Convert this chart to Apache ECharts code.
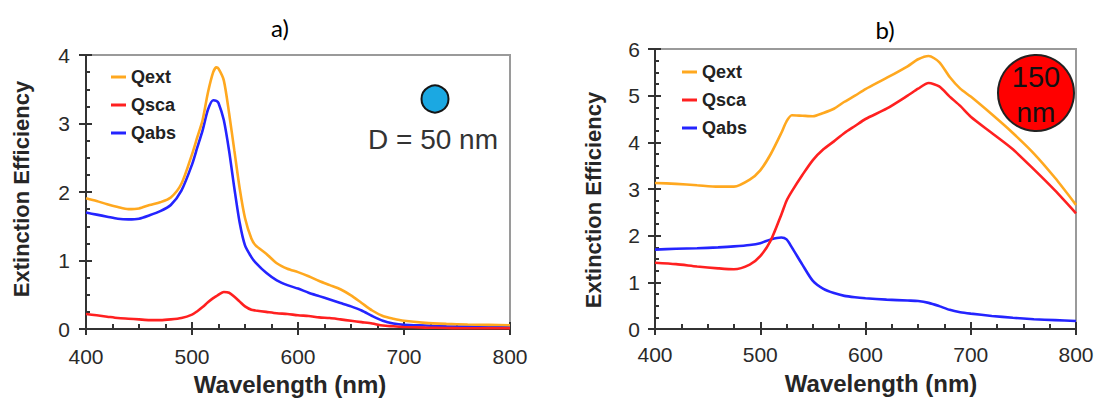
<!DOCTYPE html>
<html>
<head>
<meta charset="utf-8">
<script src="https://cdn.jsdelivr.net/npm/echarts@6/dist/echarts.min.js"></script>
<style>
html,body{margin:0;padding:0;background:#fff;}
#chart{width:1099px;height:401px;}
</style>
</head>
<body>
<div id="chart"></div>
<script>
// ---------- data ----------
const panelTitles = ['a)', 'b)'];
const seriesNames = ['Qext', 'Qsca', 'Qabs'];
const xTicks = [400, 500, 600, 700, 800];
const yTicksA = [0, 1, 2, 3, 4];
const yTicksB = [0, 1, 2, 3, 4, 5, 6];
const xAxisName = 'Wavelength (nm)';
const yAxisName = 'Extinction Efficiency';
const labelA = 'D = 50 nm';
const labelB = ['150', 'nm'];

// panel a (D = 50 nm)
const waveA = [400,410,420,430,440,450,460,470,480,490,500,505,510,515,520,523,525,530,535,540,545,550,556,560,570,580,590,600,610,620,630,640,650,660,670,680,690,700,720,740,760,780,800];
const qextA = [1.91,1.87,1.82,1.78,1.75,1.76,1.81,1.85,1.92,2.12,2.55,2.8,3.05,3.45,3.75,3.82,3.8,3.63,3.15,2.6,2.05,1.62,1.32,1.22,1.1,0.96,0.88,0.83,0.77,0.7,0.64,0.58,0.49,0.38,0.27,0.19,0.15,0.12,0.09,0.075,0.065,0.06,0.055];
const qscaA = [0.22,0.2,0.18,0.16,0.15,0.14,0.13,0.13,0.14,0.16,0.21,0.26,0.32,0.39,0.45,0.48,0.5,0.54,0.53,0.47,0.4,0.33,0.28,0.27,0.25,0.23,0.22,0.2,0.19,0.17,0.16,0.14,0.12,0.1,0.08,0.05,0.04,0.03,0.02,0.015,0.01,0.01,0.01];
const qabsA = [1.70,1.67,1.64,1.61,1.6,1.61,1.66,1.72,1.81,2.02,2.4,2.65,2.9,3.2,3.34,3.33,3.3,3.05,2.6,2.05,1.55,1.22,1.05,0.97,0.82,0.71,0.64,0.59,0.53,0.48,0.43,0.38,0.33,0.27,0.19,0.12,0.08,0.06,0.05,0.04,0.035,0.03,0.03];

// panel b (D = 150 nm)
const waveB = [400,420,440,460,475,490,500,510,520,525,530,540,550,560,570,580,590,600,620,640,650,660,670,680,690,700,720,740,760,780,800];
const qextB = [3.13,3.11,3.08,3.05,3.05,3.2,3.4,3.75,4.2,4.45,4.58,4.57,4.56,4.63,4.72,4.87,5.0,5.14,5.38,5.63,5.78,5.85,5.72,5.4,5.15,4.98,4.6,4.2,3.76,3.24,2.66];
const qscaB = [1.42,1.39,1.34,1.3,1.28,1.38,1.56,1.9,2.45,2.75,2.95,3.3,3.62,3.85,4.02,4.2,4.35,4.5,4.72,5.0,5.15,5.27,5.2,4.98,4.78,4.55,4.2,3.85,3.42,2.97,2.48];
const qabsB = [1.70,1.72,1.73,1.75,1.77,1.8,1.84,1.92,1.96,1.92,1.75,1.38,1.03,0.86,0.77,0.71,0.68,0.66,0.63,0.61,0.6,0.56,0.49,0.41,0.36,0.33,0.28,0.24,0.21,0.19,0.17];

const colors = ['#FFA81F', '#FF2020', '#2424FF'];

// ---------- helpers ----------
const FONT = 'Liberation Sans, Arial, sans-serif';
const AXIS_COLOR = '#333333';
function pairs(xs, ys) { return xs.map((x, i) => [x, ys[i]]); }

function xMain(grid, margin, gap, pad) {
  return {
    gridIndex: grid, type: 'value', position: 'bottom',
    min: xTicks[0], max: xTicks[xTicks.length - 1], interval: 100,
    axisLine: { show: true, onZero: false, lineStyle: { color: AXIS_COLOR, width: 2 } },
    axisTick: { show: true, inside: false, length: 6, lineStyle: { color: AXIS_COLOR, width: 2 } },
    axisLabel: { margin: margin, fontSize: 21, color: '#2a2a2a', fontFamily: FONT },
    splitLine: { show: false },
    name: xAxisName, nameLocation: 'middle', nameGap: gap,
    nameTextStyle: { fontSize: 24, fontWeight: 'bold', color: '#262626', fontFamily: FONT, padding: pad }
  };
}
function xMinor(grid) {
  return {
    gridIndex: grid, type: 'value', position: 'bottom',
    min: xTicks[0], max: xTicks[xTicks.length - 1], interval: 100,
    axisLine: { show: false, onZero: false },
    axisTick: { show: true, inside: true, length: 7, lineStyle: { color: AXIS_COLOR, width: 2 } },
    minorTick: { show: true, splitNumber: 4, length: 5, lineStyle: { color: AXIS_COLOR, width: 2 } },
    axisLabel: { show: false }, splitLine: { show: false }
  };
}
function yMain(grid, ticks, margin, gap, pad) {
  return {
    gridIndex: grid, type: 'value', position: 'left',
    min: ticks[0], max: ticks[ticks.length - 1], interval: 1,
    axisLine: { show: true, onZero: false, lineStyle: { color: AXIS_COLOR, width: 2 } },
    axisTick: { show: true, inside: false, length: 7, lineStyle: { color: AXIS_COLOR, width: 2 } },
    axisLabel: { margin: margin, fontSize: 21, color: '#2a2a2a', fontFamily: FONT },
    splitLine: { show: false },
    name: yAxisName, nameLocation: 'middle', nameGap: gap,
    nameTextStyle: { fontSize: 22, fontWeight: 'bold', color: '#262626', fontFamily: FONT, padding: pad }
  };
}
function yMinor(grid, ticks) {
  return {
    gridIndex: grid, type: 'value', position: 'left',
    min: ticks[0], max: ticks[ticks.length - 1], interval: 1,
    axisLine: { show: false, onZero: false },
    axisTick: { show: true, inside: true, length: 6, lineStyle: { color: AXIS_COLOR, width: 2 } },
    minorTick: { show: true, splitNumber: 4, length: 4, lineStyle: { color: AXIS_COLOR, width: 2 } },
    axisLabel: { show: false }, splitLine: { show: false }
  };
}
function line(name, data, xi, yi, ci) {
  return {
    name: name, type: 'line', data: data, xAxisIndex: xi, yAxisIndex: yi,
    showSymbol: false, symbol: 'none', smooth: 0.25,
    lineStyle: { color: colors[ci], width: 2.6 }, itemStyle: { color: colors[ci] },
    z: 3 - ci + 2
  };
}
function legend(left, top) {
  return {
    orient: 'vertical', left: left, top: top, icon: 'rect',
    itemWidth: 15, itemHeight: 3, itemGap: 10, selectedMode: false,
    data: seriesNames,
    textStyle: { fontSize: 18, fontWeight: 'bold', color: '#222', fontFamily: FONT }
  };
}

const chart = echarts.init(document.getElementById('chart'), null, { renderer: 'svg', width: 1099, height: 401 });

const option = {
  animation: false,
  backgroundColor: '#fff',
  grid: [
    { left: 86, top: 55, width: 424, height: 280, show: true, borderColor: '#9a9a9a', borderWidth: 2, backgroundColor: 'transparent' },
    { left: 655, top: 49, width: 421, height: 280, show: true, borderColor: '#9a9a9a', borderWidth: 2, backgroundColor: 'transparent' }
  ],
  xAxis: [
    xMain(0, 17, 43, [0, 16, 0, 0]), xMinor(0),
    xMain(1, 15, 42, [0, 0, 0, 31]), xMinor(1)
  ],
  yAxis: [
    yMain(0, yTicksA, 16, 54, [0, 0, 0, 6]), yMinor(0, yTicksA),
    yMain(1, yTicksB, 15, 51, [0, 22, 0, 0]), yMinor(1, yTicksB)
  ],
  legend: [legend(106, 63), legend(677, 58)],
  series: [
    line(seriesNames[0], pairs(waveA, qextA), 0, 0, 0),
    line(seriesNames[1], pairs(waveA, qscaA), 0, 0, 1),
    line(seriesNames[2], pairs(waveA, qabsA), 0, 0, 2),
    line(seriesNames[0], pairs(waveB, qextB), 2, 2, 0),
    line(seriesNames[1], pairs(waveB, qscaB), 2, 2, 1),
    line(seriesNames[2], pairs(waveB, qabsB), 2, 2, 2)
  ],
  graphic: [
    { type: 'text', x: 280, y: 27, style: { text: panelTitles[0], font: '24px Lato, "Open Sans", sans-serif', fill: '#000', textAlign: 'center', textVerticalAlign: 'middle' } },
    { type: 'text', x: 885, y: 29, style: { text: panelTitles[1], font: '24px Lato, "Open Sans", sans-serif', fill: '#000', textAlign: 'center', textVerticalAlign: 'middle' } },
    { type: 'circle', shape: { cx: 435, cy: 99, r: 13.5 }, style: { fill: '#1BA8E2', stroke: '#151515', lineWidth: 2 } },
    { type: 'text', x: 433, y: 139, style: { text: labelA, font: '28px "Liberation Sans", Arial, sans-serif', fill: '#333', textAlign: 'center', textVerticalAlign: 'middle' } },
    { type: 'circle', shape: { cx: 1036, cy: 93, r: 38 }, style: { fill: '#FF0000', stroke: '#222', lineWidth: 2 } },
    { type: 'text', x: 1036, y: 77, style: { text: labelB[0], font: '29px "Liberation Sans", Arial, sans-serif', fill: '#111', textAlign: 'center', textVerticalAlign: 'middle' } },
    { type: 'text', x: 1036, y: 112, style: { text: labelB[1], font: '28px "Liberation Sans", Arial, sans-serif', fill: '#111', textAlign: 'center', textVerticalAlign: 'middle' } }
  ]
};
chart.setOption(option);
</script>
</body>
</html>
